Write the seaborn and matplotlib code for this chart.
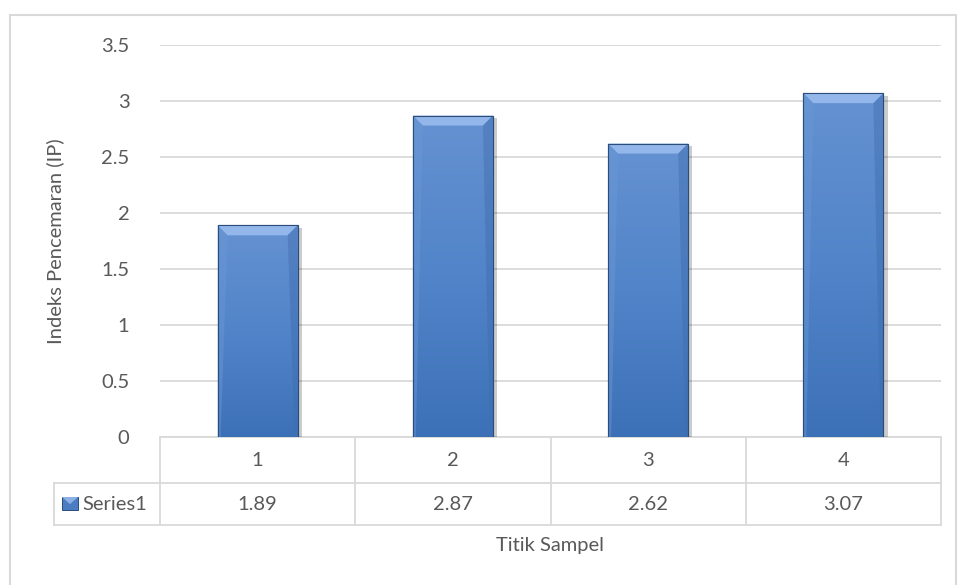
import numpy as np
import pandas as pd
import seaborn as sns
import matplotlib.pyplot as plt
from matplotlib.patches import Rectangle, Polygon
from matplotlib.colors import LinearSegmentedColormap
from matplotlib import patheffects

# chart data
titik = ['1', '2', '3', '4']
ip_values = [1.89, 2.87, 2.62, 3.07]
series_name = 'Series1'
y_ticks = [0, 0.5, 1, 1.5, 2, 2.5, 3, 3.5]
y_tick_labels = ['0', '0.5', '1', '1.5', '2', '2.5', '3', '3.5']

df = pd.DataFrame({'Titik': titik, 'IP': ip_values})

sns.set_theme(style='white')
plt.rcParams['font.family'] = ['Lato', 'DejaVu Sans']
text_color = '#595959'
grid_color = '#D9D9D9'
fs = 14.5

W, H = 957, 585
fig = plt.figure(figsize=(W / 100, H / 100), dpi=100)
ax_l, ax_r, ax_t, ax_b = 160, 941, 45, 437
ax = fig.add_axes([ax_l / W, 1 - ax_b / H, (ax_r - ax_l) / W, (ax_b - ax_t) / H])

sns.barplot(data=df, x='Titik', y='IP', color='#4A7DC2', width=0.41,
            saturation=1, ax=ax, zorder=3)

ax.set_xlim(-0.5, len(titik) - 0.5)
ax.set_ylim(0, 3.5)
ax.set_yticks(y_ticks)
ax.set_yticklabels(y_tick_labels, fontsize=fs, color=text_color)
ax.tick_params(axis='y', length=0, pad=22)
ax.set_xticks([])
ax.set_xlabel('')
ax.set_ylabel('Indeks Pencemaran (IP)', fontsize=fs, color=text_color)
ax.yaxis.set_label_coords((64 - ax_l) / (ax_r - ax_l), 0.5)
for s in ax.spines.values():
    s.set_visible(False)
ax.grid(axis='y', color=grid_color, linewidth=1.3, zorder=0)

# bevel / gradient look of the Excel bars
px_x = (ax.get_xlim()[1] - ax.get_xlim()[0]) / (ax_r - ax_l)
px_y = (ax.get_ylim()[1] - ax.get_ylim()[0]) / (ax_b - ax_t)
body_cmap = LinearSegmentedColormap.from_list('body', ['#3D71B7', '#5184C9', '#6592D1'])
grad = np.linspace(0, 1, 256).reshape(-1, 1)
for p in list(ax.patches):
    x0, w, h = p.get_x(), p.get_width(), p.get_height()
    p.set_edgecolor('#2C4C7C')
    p.set_linewidth(0.8)
    p.set_path_effects([patheffects.SimplePatchShadow(offset=(3, -2), shadow_rgbFace='#000000', alpha=0.2),
                        patheffects.Normal()])
    im = ax.imshow(grad, cmap=body_cmap, origin='lower', aspect='auto',
                   extent=(x0, x0 + w, 0, h), zorder=3.2)
    im.set_clip_path(p)
    d = 10
    top = Polygon([(x0, h), (x0 + w, h), (x0 + w - d * px_x, h - d * px_y), (x0 + d * px_x, h - d * px_y)],
                  closed=True, facecolor='#93B7EA', edgecolor='none', zorder=3.4)
    ax.add_patch(top)
    right = Polygon([(x0 + w, h), (x0 + w, 0), (x0 + w - 3 * px_x, 0), (x0 + w - d * px_x, h - d * px_y)],
                    closed=True, facecolor='#3F6DAE', edgecolor='none', alpha=0.45, zorder=3.4)
    ax.add_patch(right)
    left = Polygon([(x0, h), (x0, 0), (x0 + 3 * px_x, 0), (x0 + d * px_x, h - d * px_y)],
                   closed=True, facecolor='#6A98D6', edgecolor='none', alpha=0.45, zorder=3.4)
    ax.add_patch(left)
    ax.add_patch(Rectangle((x0, 0), w, h, facecolor='none', edgecolor='#2C4C7C', linewidth=0.8, zorder=3.6))

ax.set_xlim(-0.5, len(titik) - 0.5)
ax.set_ylim(0, 3.5)

# data table under the plot
ah = ax_b - ax_t
aw = ax_r - ax_l
r1 = -(483 - ax_b) / ah
r2 = -(525 - ax_b) / ah
lx = (54 - ax_l) / aw
line_kw = dict(color=grid_color, linewidth=1.3, clip_on=False, zorder=1)
ax.plot([0, 1], [0, 0], transform=ax.transAxes, **line_kw)
ax.plot([lx, 1], [r1, r1], transform=ax.transAxes, **line_kw)
ax.plot([lx, 1], [r2, r2], transform=ax.transAxes, **line_kw)
ax.plot([0, 0], [0, r2], transform=ax.transAxes, **line_kw)
ax.plot([lx, lx], [r1, r2], transform=ax.transAxes, **line_kw)
xt = ax.get_xaxis_transform()
for i in range(len(titik)):
    ax.plot([i + 0.5, i + 0.5], [0, r2], transform=xt, **line_kw)
    ax.text(i, r1 / 2, titik[i], transform=xt, ha='center', va='center',
            fontsize=fs, color=text_color)
    ax.text(i, (r1 + r2) / 2, f'{ip_values[i]:.2f}', transform=xt, ha='center', va='center',
            fontsize=fs, color=text_color)

ax.text((82 - ax_l) / aw, (r1 + r2) / 2, series_name, transform=ax.transAxes,
        ha='left', va='center', fontsize=fs, color=text_color)
kx, kw_ = (62 - ax_l) / aw, 16 / aw
ky, kh = -(510 - ax_b) / ah, 13 / ah
ax.add_patch(Rectangle((kx, ky), kw_, kh, transform=ax.transAxes, facecolor='#4A7DC2',
                       edgecolor='#2C4C7C', linewidth=0.7, clip_on=False))
ax.add_patch(Polygon([(kx, ky + kh), (kx + kw_, ky + kh), (kx + kw_ / 2, ky + kh * 0.45)],
                     closed=True, transform=ax.transAxes, facecolor='#8AB0E4',
                     edgecolor='none', clip_on=False))

fig.text((ax_l + ax_r) / 2 / W, 1 - 545 / H, 'Titik Sampel', ha='center', va='center',
         fontsize=fs, color=text_color)

# chart area border
fig.patches.append(Rectangle((9.5 / W, -0.05), (956 - 9.5) / W, 1.05 - 15.5 / H,
                             transform=fig.transFigure, facecolor='none',
                             edgecolor=grid_color, linewidth=1.5))

fig.savefig('out.png', dpi=100, facecolor='white')
